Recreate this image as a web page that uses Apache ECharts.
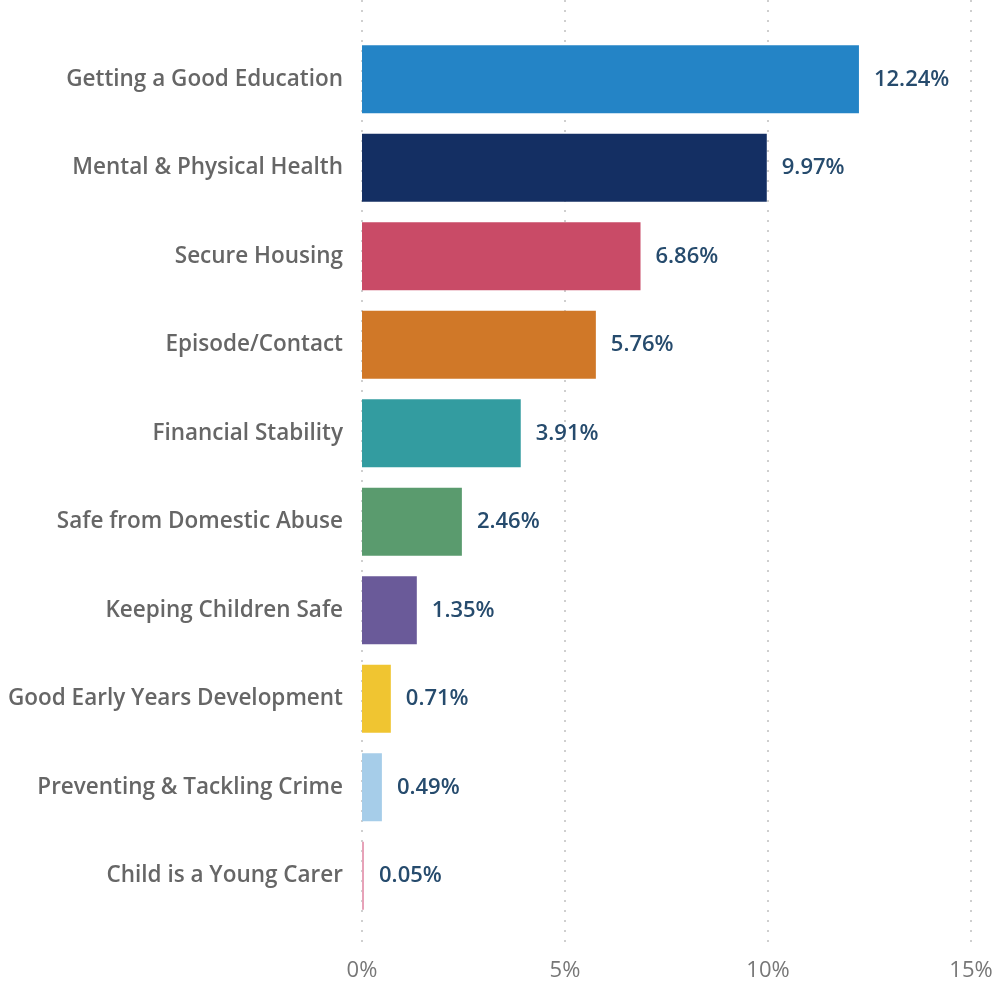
<!DOCTYPE html>
<html>
<head>
<meta charset="utf-8">
<script src="https://cdn.jsdelivr.net/npm/echarts@6/dist/echarts.min.js"></script>
<style>
  html, body { margin: 0; padding: 0; background: #fff; }
  #main { width: 996px; height: 982px; }
</style>
</head>
<body>
<div id="main"></div>
<script>
// categories, top to bottom
const categories = [
  'Getting a Good Education',
  'Mental & Physical Health',
  'Secure Housing',
  'Episode/Contact',
  'Financial Stability',
  'Safe from Domestic Abuse',
  'Keeping Children Safe',
  'Good Early Years Development',
  'Preventing & Tackling Crime',
  'Child is a Young Carer'
]
const values = [12.24, 9.97, 6.86, 5.76, 3.91, 2.46, 1.35, 0.71, 0.49, 0.05]
const barColors = ['#2484c6', '#142f63', '#c94b67', '#d07828', '#339ca0',
  '#5a9b6e', '#6a5a99', '#f0c531', '#a6cde9', '#e7a2b8']
const xTicks = [0, 5, 10, 15]

const chart = echarts.init(document.getElementById('main'))
const font = '"Open Sans", "Noto Sans", sans-serif'

chart.setOption({
  animation: false,
  grid: [
    // grid 0: only the dotted split lines and the tick labels
    { left: 362, right: 25, top: 0, bottom: 34 },
    // grid 1: the bars
    { left: 362, right: 25, top: 35, height: 885 }
  ],
  xAxis: [
    {
      gridIndex: 0,
      type: 'value',
      min: xTicks[0],
      max: xTicks[xTicks.length - 1],
      interval: 5,
      axisLine: { show: false },
      axisTick: { show: false },
      axisLabel: {
        formatter: '{value}%',
        color: '#777',
        fontSize: 22,
        fontFamily: font,
        margin: 12
      },
      splitLine: { lineStyle: { color: '#cfcfcf', type: [2, 8], width: 2 } }
    },
    {
      gridIndex: 1,
      type: 'value',
      min: 0,
      max: 15,
      show: false
    }
  ],
  yAxis: [
    { gridIndex: 0, type: 'value', show: false },
    {
      gridIndex: 1,
      type: 'category',
      inverse: true,
      data: categories,
      axisLine: { show: false },
      axisTick: { show: false },
      axisLabel: {
        color: '#666',
        fontSize: 22.5,
        fontWeight: 600,
        fontFamily: font,
        margin: 19
      }
    }
  ],
  series: [
    {
      type: 'bar',
      xAxisIndex: 1,
      yAxisIndex: 1,
      barWidth: 68,
      data: values.map((v, i) => ({ value: v, itemStyle: { color: barColors[i] } })),
      label: {
        show: true,
        position: 'right',
        distance: 15,
        formatter: (p) => p.value.toFixed(2) + '%',
        color: '#264b6d',
        fontSize: 22,
        fontWeight: 600,
        fontFamily: font
      }
    }
  ]
})
</script>
</body>
</html>
